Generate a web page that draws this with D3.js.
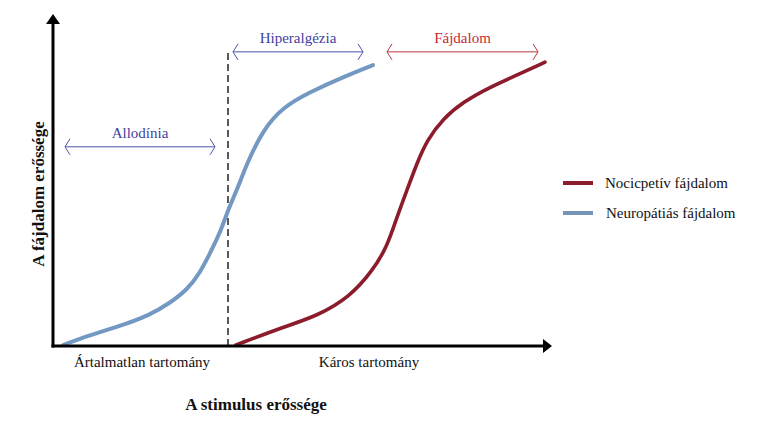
<!DOCTYPE html>
<html><head><meta charset="utf-8">
<script src="https://cdn.jsdelivr.net/npm/d3@7"></script>
<style>body{margin:0;background:#fff}svg{display:block}</style>
</head><body><svg id="c" width="758" height="433"></svg>
<script>
// Data (stimulus intensity 0-100, pain intensity 0-100)
const neuroX = [2, 7.4, 12.8, 19.4, 23.4, 26.8, 29.4, 31.4, 33.4, 35, 36.8, 38.8, 42, 46, 51.4, 58, 64];
const neuroY = [0.3, 3.3, 5.7, 9.3, 13.0, 16.9, 22.0, 28.0, 34.0, 41.0, 47.0, 55.1, 65.1, 72.0, 76.5, 81.0, 84.6];
const nociX = [36.6, 46, 52.8, 59.4, 64, 66.8, 68.8, 70.8, 72.8, 74.8, 78, 82, 87.4, 92.8, 98.4];
const nociY = [0.3, 5.7, 9.0, 14.8, 22.9, 29.8, 38.9, 47.0, 55.1, 62.0, 68.5, 73.5, 78.0, 81.6, 85.5];
const seriesNames = ["Nocicpetív fájdalom", "Neuropátiás fájdalom"];
const rangeNames = ["Allodínia", "Hiperalgézia", "Fájdalom"];
const rangeFrom = [2.4, 36, 66.8];
const rangeTo = [32.4, 62, 97];
const rangeLevel = [60, 88.6, 88.6];
const thresholdX = 35;
const thresholdTop = 88.3;
const zoneLabels = ["Ártalmatlan tartomány", "Káros tartomány"];
const zoneCenters = [17.8, 63.2];
const xTitle = "A stimulus erőssége";
const yTitle = "A fájdalom erőssége";

const FONT = "'Liberation Serif', 'Times New Roman', 'DejaVu Serif', serif";
const svg = d3.select("#c");
const x = d3.scaleLinear().domain([0, 100]).range([53, 553]);
const y = d3.scaleLinear().domain([0, 100]).range([346, 14]);

const blue = "#7399c2", red = "#8c1c2c";
const line = d3.line().x(d => x(d[0])).y(d => y(d[1])).curve(d3.curveBasis);

// threshold dashed line
svg.append("line").attr("x1", x(thresholdX)).attr("x2", x(thresholdX))
  .attr("y1", y(0)).attr("y2", y(thresholdTop))
  .attr("stroke", "#000").attr("stroke-width", 1.3).attr("stroke-dasharray", "7,4");

// curves
svg.append("path").datum(neuroX.map((v, i) => [v, neuroY[i]])).attr("d", line)
  .attr("fill", "none").attr("stroke", blue).attr("stroke-width", 4).attr("stroke-linecap", "round");
svg.append("path").datum(nociX.map((v, i) => [v, nociY[i]])).attr("d", line)
  .attr("fill", "none").attr("stroke", red).attr("stroke-width", 3.6).attr("stroke-linecap", "round");

// axes
svg.append("line").attr("x1", x(0)).attr("x2", x(0)).attr("y1", y(0) + 1.5).attr("y2", y(97))
  .attr("stroke", "#000").attr("stroke-width", 3);
svg.append("path").attr("d", `M${x(0) - 7},${y(97)} L${x(0) + 7},${y(97)} L${x(0)},${y(100)} Z`).attr("fill", "#000");
svg.append("line").attr("x1", x(0) - 1.5).attr("x2", x(98)).attr("y1", y(0)).attr("y2", y(0))
  .attr("stroke", "#000").attr("stroke-width", 3);
svg.append("path").attr("d", `M${x(98)},${y(0) - 7} L${x(98)},${y(0) + 7} L${x(99.8)},${y(0)} Z`).attr("fill", "#000");

// range arrows
const arrowCol = ["#4a55a8", "#4a55a8", "#b8343f"];
const textCol = ["#3f3f9f", "#3f3f9f", "#c42a35"];
rangeNames.forEach((n, i) => {
  const x1 = x(rangeFrom[i]), x2 = x(rangeTo[i]), yy = y(rangeLevel[i]);
  const g = svg.append("g").attr("stroke", arrowCol[i]).attr("stroke-width", 1).attr("fill", "none");
  g.append("line").attr("x1", x1).attr("x2", x2).attr("y1", yy).attr("y2", yy);
  g.append("path").attr("d", `M${x1 + 5},${yy - 8} L${x1},${yy} L${x1 + 5},${yy + 8}`);
  g.append("path").attr("d", `M${x2 - 5},${yy - 8} L${x2},${yy} L${x2 - 5},${yy + 8}`);
  svg.append("text").attr("x", (x1 + x2) / 2).attr("y", yy - 9).attr("text-anchor", "middle")
    .attr("font-family", FONT).attr("font-size", 15).attr("fill", textCol[i]).text(n);
});

// zone labels
zoneLabels.forEach((t, i) => {
  svg.append("text").attr("x", x(zoneCenters[i])).attr("y", 367).attr("text-anchor", "middle")
    .attr("font-family", FONT).attr("font-size", 15).attr("fill", "#111").text(t);
});

// axis titles
svg.append("text").attr("x", 256).attr("y", 410).attr("text-anchor", "middle")
  .attr("font-family", FONT).attr("font-size", 17).attr("font-weight", "bold").attr("fill", "#111").text(xTitle);
svg.append("text").attr("transform", "translate(44,194) rotate(-90)").attr("text-anchor", "middle")
  .attr("font-family", FONT).attr("font-size", 17).attr("font-weight", "bold").attr("fill", "#111").text(yTitle);

// legend
const legCol = [red, "#7494b8"];
seriesNames.forEach((n, i) => {
  const yy = 183 + i * 30;
  svg.append("line").attr("x1", 563).attr("x2", 593).attr("y1", yy).attr("y2", yy)
    .attr("stroke", legCol[i]).attr("stroke-width", 4);
  svg.append("text").attr("x", 605 + i).attr("y", yy + 5)
    .attr("font-family", FONT).attr("font-size", 15).attr("fill", "#111").text(n);
});
</script></body></html>
